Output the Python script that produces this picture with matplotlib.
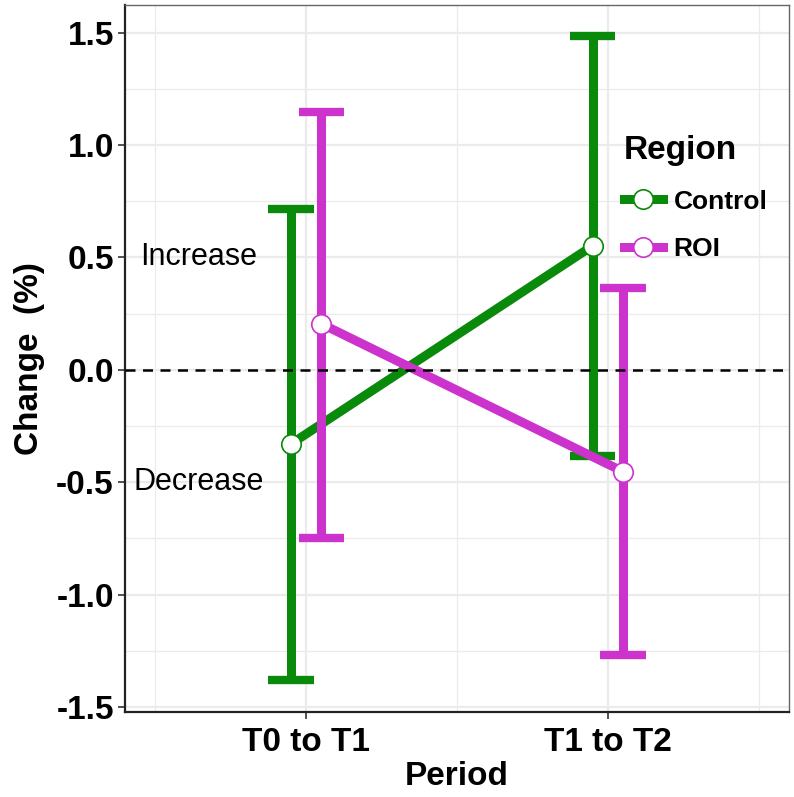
import matplotlib
matplotlib.use("Agg")
import matplotlib.pyplot as plt
import numpy as np
from matplotlib.lines import Line2D
from matplotlib.ticker import MultipleLocator

plt.rcParams['font.family'] = ['Liberation Sans', 'DejaVu Sans']

periods = ['T0 to T1', 'T1 to T2']
regions = ['Control', 'ROI']
colors = {'Control': '#0A8A0A', 'ROI': '#CC33CC'}

control_mean = [-0.33, 0.552]
control_lo = [-1.38, -0.383]
control_hi = [0.715, 1.485]

roi_mean = [0.205, -0.453]
roi_lo = [-0.747, -1.268]
roi_hi = [1.147, 0.362]

series = {
    'Control': (control_mean, control_lo, control_hi),
    'ROI': (roi_mean, roi_lo, roi_hi),
}
dodge = {'Control': -0.05, 'ROI': 0.05}

fig = plt.figure(figsize=(7.94, 7.97), dpi=100)
ax = fig.add_axes([0.1574, 0.1066, 0.8363, 0.8871])

x = np.arange(1, len(periods) + 1)
lw = 6.5
for i, reg in enumerate(regions):
    mean, lo, hi = series[reg]
    xs = x + dodge[reg]
    c = colors[reg]
    z = 3 + 2 * i
    ax.vlines(xs, lo, hi, color=c, lw=lw, zorder=z)
    ax.hlines(lo, xs - 0.075, xs + 0.075, color=c, lw=6, zorder=z)
    ax.hlines(hi, xs - 0.075, xs + 0.075, color=c, lw=6, zorder=z)
    ax.plot(xs, mean, color=c, lw=lw, zorder=z + 1, solid_capstyle='butt')
    ax.plot(xs, mean, 'o', ms=14, mfc='white', mec=c, mew=1.2, zorder=10, ls='none')

ax.axhline(0, color='black', lw=1.8, ls=(0, (4, 3)), zorder=12)

ax.text(0.645, 0.5, 'Increase', ha='center', va='center', fontsize=22)
ax.text(0.645, -0.5, 'Decrease', ha='center', va='center', fontsize=22)

ax.set_xlim(0.4, 2.6)
ax.set_ylim(-1.523, 1.623)
ax.set_xticks(x)
ax.set_xticklabels(periods)
ax.yaxis.set_major_locator(MultipleLocator(0.5))
ax.yaxis.set_minor_locator(MultipleLocator(0.25))
ax.set_xticks([0.5, 1.5, 2.5], minor=True)
ax.set_yticklabels(['%.1f' % v for v in ax.get_yticks()])
ax.grid(which='major', color='#EBEBEB', lw=1.6)
ax.grid(which='minor', color='#EBEBEB', lw=0.9)
ax.set_axisbelow(True)
ax.tick_params(which='minor', length=0)
ax.tick_params(which='major', length=5, width=1.2, color='#333333', labelsize=24, pad=3)
ax.tick_params(axis='x', pad=6)
for lab in ax.get_xticklabels() + ax.get_yticklabels():
    lab.set_fontweight('bold')

for s in ['top', 'right']:
    ax.spines[s].set_color('#666666')
    ax.spines[s].set_linewidth(1.0)
for s in ['left', 'bottom']:
    ax.spines[s].set_color('#222222')
    ax.spines[s].set_linewidth(1.6)

ax.set_xlabel('Period', fontsize=24, fontweight='bold', labelpad=2)
ax.set_ylabel('Change  (%)', fontsize=24, fontweight='bold', labelpad=8)

handles = [Line2D([], [], color=colors[r], lw=lw, marker='o', ms=14, mfc='white',
                  mec=colors[r], mew=1.2) for r in regions]
leg = ax.legend(handles, regions, title='Region', loc='upper left',
                bbox_to_anchor=(0.715, 0.85), frameon=False, fontsize=19,
                title_fontproperties={'weight': 'bold', 'size': 24},
                handlelength=1.5, handletextpad=0.4, labelspacing=0.9)
leg._legend_box.align = 'left'
for t in leg.get_texts():
    t.set_fontweight('bold')

fig.savefig('out.png', dpi=100)
